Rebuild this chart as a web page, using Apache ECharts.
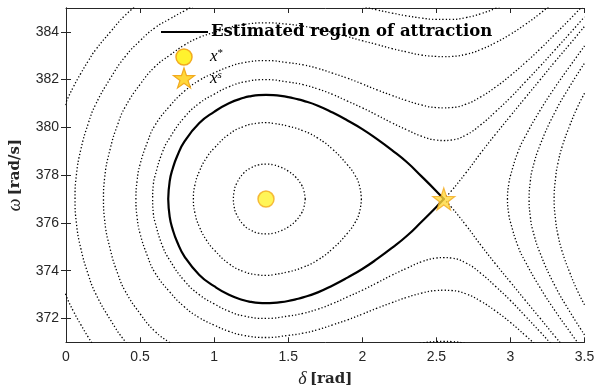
<!DOCTYPE html>
<html><head><meta charset="utf-8">
<script src="https://cdn.jsdelivr.net/npm/echarts@6/dist/echarts.min.js"></script>
<style>html,body{margin:0;padding:0;background:#fff}#c{width:595px;height:390px}</style>
</head><body><div id="c"></div>
<script>
// tick labels
const xTicks = [0, 0.5, 1, 1.5, 2, 2.5, 3, 3.5];
const yTicks = [372, 374, 376, 378, 380, 382, 384];

// equilibria
const stablePoint = [1.35, 377];
const saddlePoint = [2.55, 377];

// innermost closed level curve
const innerDelta = [1.13,1.135,1.15,1.2,1.25,1.3,1.35,1.4,1.45,1.5,1.55,1.59,1.605,1.615];
const innerUpper = [377,377.32,377.63,378.09,378.31,378.43,378.46,378.43,378.33,378.17,377.92,377.59,377.37,377];
const innerLower = [377,376.68,376.37,375.91,375.69,375.57,375.54,375.57,375.67,375.83,376.08,376.41,376.63,377];

// second closed level curve
const midDelta = [0.86,0.87,0.9,0.95,1.0,1.1,1.2,1.3,1.35,1.4,1.5,1.6,1.7,1.8,1.9,1.95,1.98,1.994];
const midUpper = [377,377.58,378.16,378.74,379.13,379.71,380.04,380.18,380.2,380.17,380.05,379.86,379.55,379.08,378.43,378.0,377.58,377];
const midLower = [377,376.42,375.84,375.26,374.87,374.29,373.96,373.82,373.8,373.83,373.95,374.14,374.45,374.92,375.57,376.0,376.42,377];

// estimated region of attraction (solid)
const roaDelta = [0.69,0.7,0.72,0.75,0.8,0.9,1.0,1.1,1.2,1.25,1.3,1.35,1.4,1.45,1.5,1.55,1.6,1.7,1.8,1.9,2.0,2.1,2.2,2.3,2.4,2.5,2.55];
const roaUpper = [377,377.75,378.27,378.79,379.41,380.18,380.65,381.01,381.24,381.31,381.35,381.36,381.35,381.32,381.27,381.20,381.12,380.91,380.62,380.29,379.93,379.51,379.05,378.55,377.95,377.33,377];
const roaLower = [377,376.25,375.73,375.21,374.59,373.82,373.35,372.99,372.76,372.69,372.65,372.64,372.65,372.68,372.73,372.80,372.88,373.09,373.38,373.71,374.07,374.49,374.95,375.45,376.05,376.67,377];

// separatrix continuation right of the saddle
const sepDelta = [2.55,2.6,2.7,2.8,2.9,3.0,3.1,3.2,3.3,3.4,3.5];
const sepUpper = [377,377.33,378.1,378.93,379.72,380.48,381.24,381.99,382.75,383.48,384.23];
const sepLower = [377,376.67,375.9,375.07,374.28,373.52,372.76,372.01,371.25,370.52,369.77];

// open level curves outside the separatrix
const b1Delta = [0.585,0.59,0.6,0.65,0.7,0.8,0.9,1.0,1.1,1.2,1.35,1.5,1.6,1.7,1.8,1.9,2.0,2.1,2.2,2.3,2.4,2.5,2.55,2.6,2.7,2.8,2.9,3.0,3.1,3.2,3.3,3.4,3.5];
const b1Upper = [377,377.63,377.95,378.95,379.56,380.43,381.01,381.39,381.70,381.90,382.0,381.90,381.79,381.61,381.38,381.10,380.82,380.51,380.19,379.90,379.63,379.47,379.45,379.47,379.68,380.11,380.66,381.25,381.90,382.56,383.24,383.93,384.63];
const b1Lower = [377,376.37,376.05,375.05,374.44,373.57,372.99,372.61,372.30,372.10,372.0,372.10,372.21,372.39,372.62,372.90,373.18,373.49,373.81,374.10,374.37,374.53,374.55,374.53,374.32,373.89,373.34,372.75,372.10,371.44,370.76,370.07,369.37];

const b2Delta = [0.472,0.48,0.5,0.55,0.6,0.7,0.8,0.9,1.0,1.1,1.2,1.35,1.5,1.6,1.7,1.8,1.9,2.0,2.1,2.2,2.3,2.4,2.5,2.55,2.6,2.7,2.8,2.9,3.0,3.1,3.2,3.3,3.4,3.5];
const b2Upper = [377,377.77,378.45,379.39,380.08,380.89,381.52,381.97,382.28,382.54,382.71,382.80,382.71,382.62,382.47,382.27,382.06,381.82,381.57,381.34,381.12,380.94,380.83,380.82,380.83,380.97,381.28,381.69,382.17,382.71,383.28,383.90,384.52,385.17];
const b2Lower = [377,376.23,375.55,374.61,373.92,373.11,372.48,372.03,371.72,371.46,371.29,371.20,371.29,371.38,371.53,371.73,371.94,372.18,372.43,372.66,372.88,373.06,373.17,373.18,373.17,373.03,372.72,372.31,371.83,371.29,370.72,370.10,369.48,368.83];

const b3Delta = [0.253,0.26,0.3,0.35,0.4,0.5,0.6,0.7,0.8,0.9,1.0,1.1,1.2,1.35,1.5,1.6,1.7,1.8,1.9,2.0,2.1,2.2,2.3,2.4,2.5,2.55,2.6,2.7,2.8,2.9,3.0,3.1,3.2,3.3];
const b3Upper = [377,377.84,379.14,380.14,380.86,381.80,382.54,383.02,383.45,383.77,383.98,384.18,384.31,384.38,384.32,384.24,384.12,383.97,383.80,383.63,383.47,383.30,383.16,383.03,382.97,382.96,382.97,383.06,383.26,383.55,383.90,384.31,384.77,385.28];
const b3Lower = [377,376.16,374.86,373.86,373.14,372.20,371.46,370.98,370.55,370.23,370.02,369.82,369.69,369.62,369.68,369.76,369.88,370.03,370.20,370.37,370.53,370.70,370.84,370.97,371.03,371.04,371.03,370.94,370.74,370.45,370.10,369.69,369.23,368.72];

const b4Delta = [0.061,0.07,0.1,0.15,0.2,0.3,0.4,0.5,0.6,0.7,0.8,0.9,1.0,1.35,1.7,1.9,2.0,2.1,2.2,2.3,2.4,2.5,2.55,2.6,2.7,2.8,2.9,3.0,3.1];
const b4Upper = [377,378.0,379.07,380.16,380.96,382.06,382.97,383.63,384.17,384.54,384.88,385.18,385.35,385.69,385.47,385.2,385.07,384.92,384.79,384.67,384.58,384.52,384.52,384.52,384.60,384.76,384.99,385.28,385.63];
const b4Lower = [377,376.0,374.93,373.84,373.04,371.94,371.03,370.37,369.83,369.46,369.12,368.82,368.65,368.31,368.53,368.8,368.93,369.08,369.21,369.33,369.42,369.48,369.48,369.48,369.40,369.24,369.01,368.72,368.37];

const c5Delta = [-0.05,0,0.05,0.1,0.15,0.2,0.3,0.4,0.5];
const c5Upper = [380.3,381.05,381.70,382.26,382.78,383.25,384.0,384.70,385.21];
const c5Lower = [373.7,372.95,372.3,371.74,371.22,370.75,370.0,369.3,368.79];

// level curves right of the saddle
const r1Delta = [2.98,2.99,3.0,3.05,3.1,3.2,3.3,3.4,3.5];
const r1Upper = [377,377.69,377.97,378.96,379.62,380.71,381.67,382.55,383.41];
const r1Lower = [377,376.31,376.03,375.04,374.38,373.29,372.33,371.45,370.59];
const r2Delta = [3.126,3.135,3.15,3.2,3.3,3.4,3.5];
const r2Upper = [377,377.78,378.29,379.26,380.63,381.71,382.69];
const r2Lower = [377,376.22,375.71,374.74,373.37,372.29,371.31];
const r3Delta = [3.295,3.305,3.32,3.35,3.4,3.45,3.5];
const r3Upper = [377,377.89,378.48,379.21,380.07,380.81,381.43];
const r3Lower = [377,376.11,375.52,374.79,373.93,373.19,372.57];

function curve(d, up, lo) {
  const pts = [];
  for (let i = d.length - 1; i >= 0; i--) pts.push([d[i], lo[i]]);
  for (let i = (up[0] === lo[0] ? 1 : 0); i < d.length; i++) pts.push([d[i], up[i]]);
  return pts;
}
function branch(d, w) { return d.map((v, i) => [v, w[i]]); }

const dotted = { color: '#000', width: 1.3, type: [1.3, 2.1] };
function dottedSeries(data) {
  return { type: 'line', data, smooth: 0.5, symbol: 'none', lineStyle: dotted, silent: true, z: 2 };
}

const chart = echarts.init(document.getElementById('c'), null, { renderer: 'canvas' });
const axisColor = '#262626';
const starPath = 'path://M50,0 L61.8,35.1 L98.1,35.1 L68.8,56.7 L79.4,91 L50,70 L20.6,91 L31.2,56.7 L1.9,35.1 L38.2,35.1 Z';
const legendStar = [[184,68],[186.5,75.6],[194.5,75.7],[188.0,80.4],[190.5,88.0],[184,83.3],[177.5,88.0],[180.0,80.4],[173.5,75.7],[181.5,75.6]];
const serif = '"DejaVu Serif", "Liberation Serif", serif';

chart.setOption({
  animation: false,
  backgroundColor: '#fff',
  grid: { left: 66, top: 8, right: 10.5, bottom: 47.7, containLabel: false, outerBoundsMode: 'none' },
  xAxis: [{
    type: 'value', min: 0, max: 3.5, interval: 0.5, position: 'bottom',
    axisLine: { lineStyle: { color: axisColor, width: 1 } },
    axisTick: { inside: true, length: 5, lineStyle: { color: axisColor } },
    axisLabel: { color: axisColor, fontSize: 14, fontFamily: 'Liberation Sans, Arial, sans-serif', margin: 8 },
    splitLine: { show: false },
    name: '{i|δ} {b|[rad]}', nameLocation: 'middle', nameGap: 28,
    nameTextStyle: { rich: {
      i: { fontFamily: 'Liberation Serif, serif', fontStyle: 'italic', fontSize: 18, color: axisColor },
      b: { fontFamily: serif, fontWeight: 'bold', fontSize: 15, color: axisColor }
    } }
  }, {
    type: 'value', min: 0, max: 3.5, interval: 0.5, position: 'top',
    axisLine: { lineStyle: { color: axisColor, width: 1 } },
    axisTick: { inside: true, length: 5, lineStyle: { color: axisColor } },
    axisLabel: { show: false }, splitLine: { show: false }
  }],
  yAxis: [{
    type: 'value', min: 371, max: 385, position: 'left',
    axisLine: { lineStyle: { color: axisColor, width: 1 } },
    axisTick: { inside: true, length: 5, lineStyle: { color: axisColor }, customValues: yTicks },
    axisLabel: { color: axisColor, fontSize: 14, fontFamily: 'Liberation Sans, Arial, sans-serif', margin: 7, customValues: yTicks },
    splitLine: { show: false },
    name: '{i|ω} {b|[rad/s]}', nameLocation: 'middle', nameGap: 42, nameRotate: 90,
    nameTextStyle: { rich: {
      i: { fontFamily: 'Liberation Serif, serif', fontStyle: 'italic', fontSize: 18, color: axisColor },
      b: { fontFamily: serif, fontWeight: 'bold', fontSize: 15, color: axisColor }
    } }
  }, {
    type: 'value', min: 371, max: 385, position: 'right',
    axisLine: { lineStyle: { color: axisColor, width: 1 } },
    axisTick: { inside: true, length: 5, lineStyle: { color: axisColor }, customValues: yTicks },
    axisLabel: { show: false }, splitLine: { show: false }
  }],
  series: [
    dottedSeries(curve(innerDelta, innerUpper, innerLower)),
    dottedSeries(curve(midDelta, midUpper, midLower)),
    dottedSeries(branch(sepDelta, sepUpper)),
    dottedSeries(branch(sepDelta, sepLower)),
    dottedSeries(curve(b1Delta, b1Upper, b1Lower)),
    dottedSeries(curve(b2Delta, b2Upper, b2Lower)),
    dottedSeries(curve(b3Delta, b3Upper, b3Lower)),
    dottedSeries(curve(b4Delta, b4Upper, b4Lower)),
    dottedSeries(curve(c5Delta, c5Upper, c5Lower)),
    dottedSeries(curve(r1Delta, r1Upper, r1Lower)),
    dottedSeries(curve(r2Delta, r2Upper, r2Lower)),
    dottedSeries(curve(r3Delta, r3Upper, r3Lower)),
    { type: 'line', data: branch(roaDelta, roaUpper), smooth: 0.5, symbol: 'none', lineStyle: { color: '#000', width: 2.2 }, z: 3, silent: true },
    { type: 'line', data: branch(roaDelta, roaLower), smooth: 0.5, symbol: 'none', lineStyle: { color: '#000', width: 2.2 }, z: 3, silent: true },
    { type: 'scatter', data: [stablePoint], symbol: 'circle', symbolSize: 16,
      itemStyle: { color: '#FFF22E', borderColor: '#F2AA1F', borderWidth: 1.5 }, z: 5, silent: true },
    { type: 'scatter', data: [saddlePoint], symbol: starPath, symbolSize: 22,
      itemStyle: { color: '#FFD83A', borderColor: '#F2AA1F', borderWidth: 1.2 }, z: 5, silent: true }
  ],
  graphic: [
    { type: 'line', shape: { x1: 161, y1: 32, x2: 208, y2: 32 }, style: { stroke: '#000', lineWidth: 2.2 }, z: 10 },
    { type: 'text', x: 211, y: 32, style: { text: 'Estimated region of attraction', font: 'bold 16.5px ' + serif, fill: '#000', textVerticalAlign: 'middle' }, z: 10 },
    { type: 'circle', shape: { cx: 184, cy: 57, r: 8 }, style: { fill: '#FFF22E', stroke: '#F2AA1F', lineWidth: 1.5 }, z: 10 },
    { type: 'text', x: 210, y: 57, style: { rich: { i: { font: 'italic 17px "Liberation Serif", serif', fill: '#000' }, s: { font: '11px "Liberation Serif", serif', fill: '#000', verticalAlign: 'top', padding: [0,0,8,0] } }, text: '{i|x}{s|*}', textVerticalAlign: 'middle' }, z: 10 },
    { type: 'polygon', shape: { points: legendStar }, style: { fill: '#FFD83A', stroke: '#F2AA1F', lineWidth: 1.2 }, z: 10 },
    { type: 'text', x: 210, y: 79, style: { rich: { i: { font: 'italic 17px "Liberation Serif", serif', fill: '#000' }, s: { font: 'italic 11px "Liberation Serif", serif', fill: '#000', verticalAlign: 'top', padding: [0,0,8,0] } }, text: '{i|x}{s|s}', textVerticalAlign: 'middle' }, z: 10 }
  ]
});
</script></body></html>
